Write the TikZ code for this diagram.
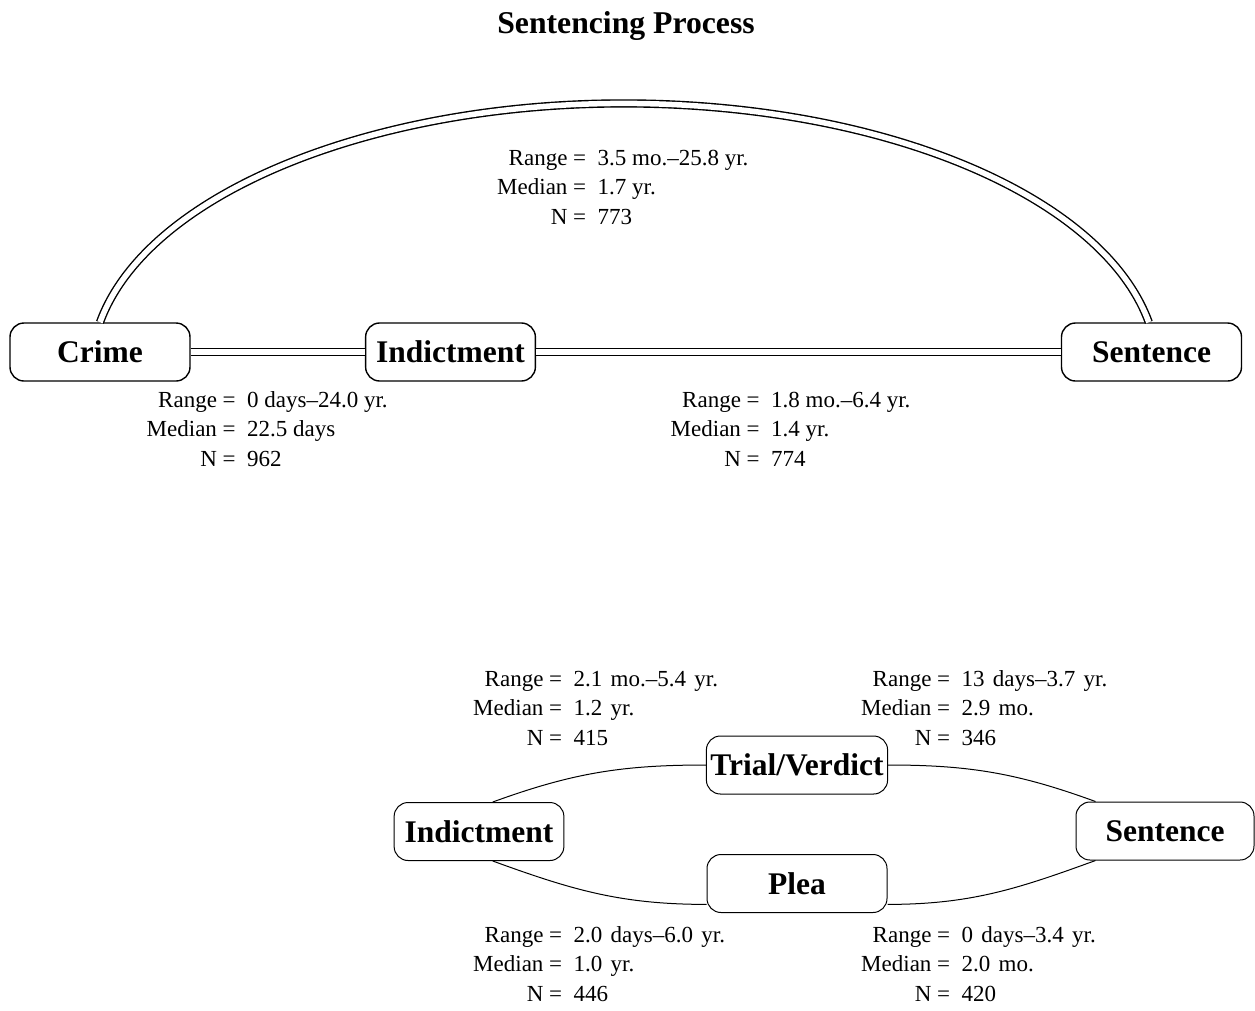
\documentclass[tikz,border=0pt]{standalone}
\usepackage{fontspec}
\setmainfont{Liberation Serif}
\usepackage{tikz}

\newcommand{\valfont}{}
\newcommand{\stats}[3]{\begin{tabular}[t]{@{}r@{\ =\ \ }l@{}}Range&\valfont #1\\Median&\valfont #2\\N&\valfont #3\end{tabular}}

\begin{document}
\begin{tikzpicture}[x=1pt,y=1pt,
	stage/.style={rectangle,draw,rounded corners=14pt,line width=1.4pt,minimum width=180pt,minimum height=58pt,inner xsep=4pt,font=\fontsize{31.5}{36}\selectfont\bfseries},
	lowstage/.style={stage,line width=1pt},
	wide/.style={minimum width=0pt,inner xsep=10.5pt},
	bigstats/.style={anchor=base west,inner sep=0pt,font=\fontsize{23}{29.5}\selectfont},
	smallstats/.style={bigstats,font=\fontsize{23}{29.5}\selectfont\renewcommand{\valfont}{\spaceskip=0.36em}},
	link/.style={double,line width=1.4pt,double distance=5.5pt},
	thinlink/.style={line width=1pt}]

	\useasboundingbox (0,0) rectangle (1255,-1010);

	\node[anchor=base,font=\fontsize{31.7}{36}\selectfont\bfseries] (title) at (626,-33) {Sentencing Process};

	\node[stage] (crime) at (100,-352) {Crime};
	\node[stage,wide] (ind1) at (450.5,-352) {Indictment};
	\node[stage] (sent1) at (1151.5,-352) {Sentence};

	\draw[link] (crime) -- (ind1);
	\draw[link] (ind1) -- (sent1);
	\draw[link] (crime.north) arc[start angle=169.7,end angle=10.3,x radius=533pt,y radius=266.5pt];

	\node[bigstats] (arcstats) at (497,-165) {\stats{3.5 mo.--25.8 yr.}{1.7 yr.}{773}};
	\node[bigstats] (firststats) at (146.5,-407) {\stats{0 days--24.0 yr.}{22.5 days}{962}};
	\node[bigstats] (secondstats) at (670.5,-407) {\stats{1.8 mo.--6.4 yr.}{1.4 yr.}{774}};

	\node[lowstage,wide] (ind2) at (479,-831.5) {Indictment};
	\node[lowstage] (trial) at (797,-765) {Trial/Verdict};
	\node[lowstage] (plea) at (797,-883.5) {Plea};
	\node[lowstage,minimum width=178pt] (sent2) at (1165,-831) {Sentence};

	\draw[thinlink] (ind2.65) to[out=20,in=180] (trial.west);
	\draw[thinlink] (ind2.-65) to[out=-20,in=180] (plea.193);
	\draw[thinlink] (trial.east) to[out=0,in=160] (sent2.157);
	\draw[thinlink] (plea.-13) to[out=0,in=-160] (sent2.-157);

	\node[smallstats] (trialstats) at (473,-686) {\stats{2.1 mo.--5.4 yr.}{1.2 yr.}{415}};
	\node[smallstats] (verdictstats) at (861,-686) {\stats{13 days--3.7 yr.}{2.9 mo.}{346}};
	\node[smallstats] (pleastats) at (473,-942) {\stats{2.0 days--6.0 yr.}{1.0 yr.}{446}};
	\node[smallstats] (sentstats) at (861,-942) {\stats{0 days--3.4 yr.}{2.0 mo.}{420}};
\end{tikzpicture}
\end{document}
